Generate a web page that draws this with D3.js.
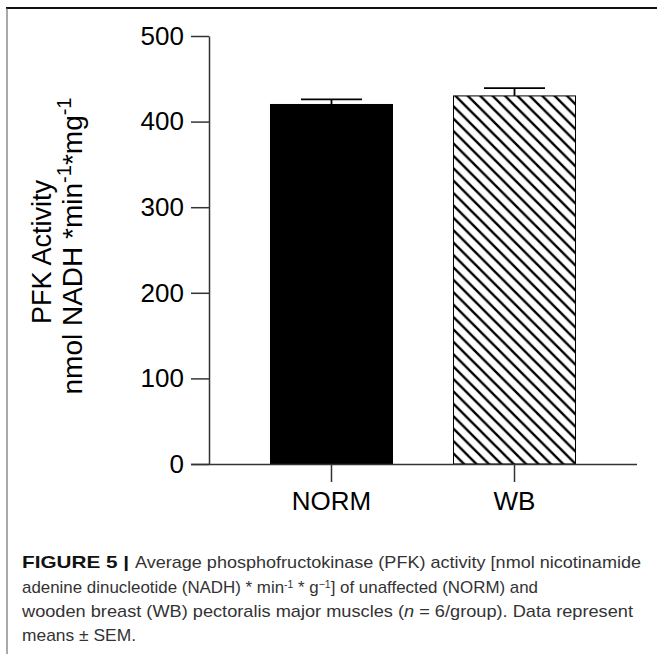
<!DOCTYPE html>
<html>
<head>
<meta charset="utf-8">
<script src="https://cdn.jsdelivr.net/npm/d3@7/dist/d3.min.js"></script>
<style>
  html, body { margin: 0; padding: 0; background: #fff; }
  svg { display: block; }
</style>
</head>
<body>
<svg id="chart" width="657" height="654"></svg>
<script>
// ---- data ----
const categories = ["NORM", "WB"];
const means = [420, 430];
const sems = [6, 9];
const yTicks = [0, 100, 200, 300, 400, 500];
const fills = ["solid", "hatch"];

const svg = d3.select("#chart");
const W = 657, H = 654;
const font = "'Liberation Sans', Arial, Helvetica, sans-serif";
const capFont = "'Liberation Sans Narrow', 'Liberation Sans', Arial, sans-serif";

// frame
svg.append("line").attr("x1", 6).attr("x2", W).attr("y1", 8).attr("y2", 8)
  .attr("stroke", "#111").attr("stroke-width", 2);
svg.append("line").attr("x1", 7).attr("x2", 7).attr("y1", 8).attr("y2", H)
  .attr("stroke", "#555").attr("stroke-width", 1);

// hatch pattern
const defs = svg.append("defs");
const pat = defs.append("pattern").attr("id", "hatch")
  .attr("patternUnits", "userSpaceOnUse").attr("width", 12.4).attr("height", 12.4);
pat.append("rect").attr("width", 12.4).attr("height", 12.4).attr("fill", "#fff");
pat.append("path").attr("d", "M-3.1,9.3 L3.1,15.5 M-3.1,-3.1 L15.5,15.5 M9.3,-3.1 L15.5,3.1")
  .attr("stroke", "#000").attr("stroke-width", 2.4);

// scales
const x = d3.scaleBand().domain(categories).range([209, 637])
  .paddingInner(1/3).paddingOuter(0.336);
const y = d3.scaleLinear().domain([0, 500]).range([464, 36]);

// bars
categories.forEach((c, i) => {
  svg.append("rect")
    .attr("x", x(c)).attr("width", x.bandwidth())
    .attr("y", y(means[i])).attr("height", y(0) - y(means[i]))
    .attr("fill", fills[i] === "solid" ? "#000" : "url(#hatch)")
    .attr("stroke", "#000").attr("stroke-width", 1);
  const cx = x(c) + x.bandwidth() / 2;
  const capW = x.bandwidth() / 2;
  svg.append("line").attr("x1", cx).attr("x2", cx)
    .attr("y1", y(means[i])).attr("y2", y(means[i] + sems[i]))
    .attr("stroke", "#000").attr("stroke-width", 1.8);
  svg.append("line").attr("x1", cx - capW / 2).attr("x2", cx + capW / 2)
    .attr("y1", y(means[i] + sems[i])).attr("y2", y(means[i] + sems[i]))
    .attr("stroke", "#000").attr("stroke-width", 1.8);
});

// y axis
const yAxis = svg.append("g").attr("transform", "translate(209,0)")
  .call(d3.axisLeft(y).tickValues(yTicks).tickSize(18).tickPadding(7).tickSizeOuter(0));
yAxis.select(".domain").attr("stroke", "#333").attr("stroke-width", 1.5);
yAxis.selectAll(".tick line").attr("stroke", "#333").attr("stroke-width", 1.5);
yAxis.selectAll(".tick text").attr("font-family", font).attr("font-size", 26).attr("fill", "#000");

// x axis
const xAxis = svg.append("g").attr("transform", "translate(0,464)")
  .call(d3.axisBottom(x).tickSize(18).tickPadding(10).tickSizeOuter(0));
xAxis.select(".domain").attr("stroke", "#333").attr("stroke-width", 1.5)
  .attr("d", "M191,0.5H637");
xAxis.selectAll(".tick line").attr("stroke", "#333").attr("stroke-width", 1.5);
xAxis.selectAll(".tick text").attr("font-family", font).attr("font-size", 26).attr("fill", "#000");

// y label
const yl = svg.append("g").attr("transform", "translate(0,252) rotate(-90)")
  .attr("font-family", font).attr("font-size", 27).attr("fill", "#000").attr("text-anchor", "middle");
yl.append("text").attr("x", 0).attr("y", 51).text("PFK Activity");
const t2 = yl.append("text").attr("x", 6).attr("y", 82).attr("font-size", 28);
t2.append("tspan").text("nmol NADH *min");
t2.append("tspan").attr("font-size", 20).attr("dy", -11).text("-1");
t2.append("tspan").attr("dy", 11).text("*mg");
t2.append("tspan").attr("font-size", 20).attr("dy", -11).text("-1");

// caption
const cap = svg.append("g").attr("font-family", capFont).attr("font-size", 17).attr("fill", "#333");
cap.append("text").attr("x", 22).attr("y", 568).attr("font-family", font).attr("font-weight", "bold")
  .attr("fill", "#111").attr("textLength", 107).attr("lengthAdjust", "spacingAndGlyphs").text("FIGURE 5 |");
cap.append("text").attr("x", 135).attr("y", 568).attr("textLength", 506).attr("lengthAdjust", "spacingAndGlyphs")
  .text("Average phosphofructokinase (PFK) activity [nmol nicotinamide");
const l2 = cap.append("text").attr("x", 22).attr("y", 593).attr("textLength", 516).attr("lengthAdjust", "spacingAndGlyphs");
l2.append("tspan").text("adenine dinucleotide (NADH) * min");
l2.append("tspan").attr("font-size", 10.5).attr("dy", -5).text("-1");
l2.append("tspan").attr("dy", 5).text(" * g");
l2.append("tspan").attr("font-size", 10.5).attr("dy", -5).text("\u22121");
l2.append("tspan").attr("dy", 5).text("] of unaffected (NORM) and");
const l3 = cap.append("text").attr("x", 22).attr("y", 617).attr("textLength", 611).attr("lengthAdjust", "spacingAndGlyphs");
l3.append("tspan").text("wooden breast (WB) pectoralis major muscles (");
l3.append("tspan").attr("font-style", "italic").text("n");
l3.append("tspan").text(" = 6/group). Data represent");
cap.append("text").attr("x", 22).attr("y", 641).attr("textLength", 114).attr("lengthAdjust", "spacingAndGlyphs").text("means \u00B1 SEM.");
</script>
</body>
</html>
